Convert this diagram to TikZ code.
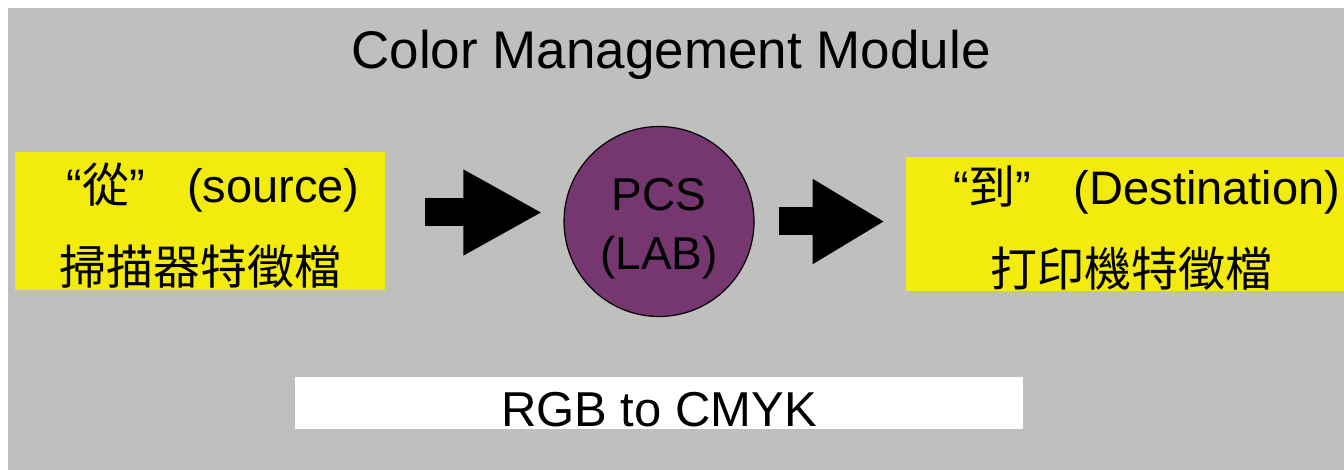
\documentclass[tikz,border=0pt]{standalone}
\usepackage{fontspec}
\setmainfont{Liberation Sans}
\newfontfamily\cjk{Noto Sans CJK TC}
\usetikzlibrary{arrows.meta, positioning}
\definecolor{bggray}{RGB}{191,191,189}
\definecolor{profyellow}{RGB}{243,235,13}
\definecolor{pcspurple}{RGB}{118,54,112}

\begin{document}
\begin{tikzpicture}[
    x=1pt, y=-1pt,
    node distance=60pt,
    profile/.style={rectangle, fill=profyellow, inner sep=0pt, align=center, font=\fontsize{47}{82}\selectfont},
    space/.style={circle, draw=black, line width=1.2pt, fill=pcspurple, minimum size=190pt, inner sep=0pt, align=center, font=\fontsize{46}{59}\selectfont},
    fatarrow/.style={line width=28pt, -{Triangle[length=#1, width=80pt]}},
    fatarrow/.default=76pt
]
\clip (0,0) rectangle (1344,470);
\fill[bggray] (8,8) rectangle (1344,470);

\node[space] (pcs) at (659,221.5) {\rule{0pt}{38pt}\smash{PCS}\\\smash{(LAB)}};
\node[profile, minimum width=370pt, minimum height=138pt, left=178pt of pcs] (src) {\rule{0pt}{44pt}\hspace*{26pt}\smash{“{\cjk 從}”\hspace{0.9em}(source)}\\\smash{\cjk 掃描器特徵檔}};
\node[profile, minimum width=452pt, minimum height=134pt, right=151pt of pcs, yshift=-2.5pt] (dst) {\rule{0pt}{44pt}\hspace*{30pt}\smash{“{\cjk 到}”\hspace{0.9em}(Destination)}\\\smash{\cjk 打印機特徵檔}};
\node[font=\fontsize{53}{60}\selectfont, anchor=base] (title) at (671,69) {Color Management Module};
\node[rectangle, fill=white, inner sep=0pt, minimum width=728pt, text height=49pt, text depth=3pt, font=\fontsize{49}{56}\selectfont, below=of pcs] (conv) {RGB to CMYK};

\draw[fatarrow=79pt, shorten <=40pt, shorten >=21pt] ([yshift=9pt]src.east) -- ([yshift=9pt]pcs.west);
\draw[fatarrow=72pt, shorten <=24pt, shorten >=21pt] (pcs.east) -- (pcs.east -| dst.west);
\end{tikzpicture}
\end{document}
